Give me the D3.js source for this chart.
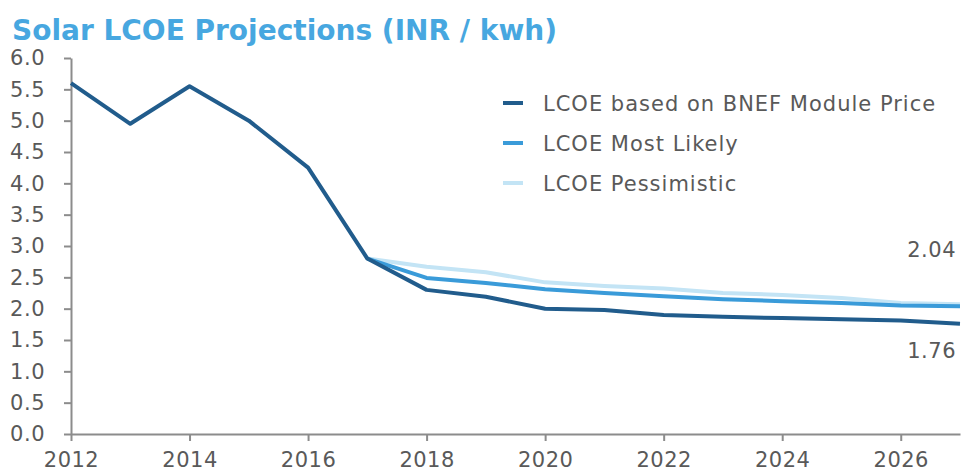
<!DOCTYPE html>
<html>
<head>
<meta charset="utf-8">
<title>Solar LCOE Projections</title>
<script src="https://cdn.jsdelivr.net/npm/d3@7/dist/d3.min.js"></script>
<style>
  body { margin: 0; background: #fff; }
  text { font-family: "DejaVu Sans", sans-serif; }
</style>
</head>
<body>
<script>
// data
var years = [2012, 2013, 2014, 2015, 2016, 2017, 2018, 2019, 2020, 2021, 2022, 2023, 2024, 2025, 2026, 2027];
var bnef = [5.6, 4.95, 5.55, 5.0, 4.25, 2.8, 2.3, 2.19, 2.0, 1.98, 1.9, 1.87, 1.85, 1.83, 1.81, 1.76];
var mostLikelyYears = [2017, 2018, 2019, 2020, 2021, 2022, 2023, 2024, 2025, 2026, 2027];
var mostLikely = [2.8, 2.49, 2.41, 2.31, 2.25, 2.2, 2.15, 2.12, 2.09, 2.05, 2.04];
var pessimistic = [2.8, 2.67, 2.58, 2.42, 2.36, 2.32, 2.25, 2.22, 2.17, 2.09, 2.07];
var yTicks = [0, 0.5, 1, 1.5, 2, 2.5, 3, 3.5, 4, 4.5, 5, 5.5, 6];
var xTicks = [2012, 2014, 2016, 2018, 2020, 2022, 2024, 2026];
var seriesNames = ["LCOE based on BNEF Module Price", "LCOE Most Likely", "LCOE Pessimistic"];
var seriesColors = ["#215c8c", "#3a9bd9", "#c3e4f5"];

var w = 970, h = 474;
var svg = d3.select("body").append("svg").attr("width", w).attr("height", h);

var x = d3.scaleLinear().domain([2012, 2027]).range([71, 960]);
var y = d3.scaleLinear().domain([0, 6]).range([434, 58]);

svg.append("text")
   .attr("x", 12).attr("y", 40)
   .attr("fill", "#47a7e0")
   .attr("font-size", 28).attr("font-weight", "bold")
   .text("Solar LCOE Projections (INR / kwh)");

var yAxis = svg.append("g")
   .attr("transform", "translate(71,0)")
   .call(d3.axisLeft(y).tickValues(yTicks).tickFormat(d3.format(".1f"))
         .tickSize(7).tickSizeOuter(0).tickPadding(19));

var xAxis = svg.append("g")
   .attr("transform", "translate(0,434)")
   .call(d3.axisBottom(x).tickValues(xTicks).tickFormat(d3.format("d"))
         .tickSize(7).tickSizeOuter(0).tickPadding(11));

[yAxis, xAxis].forEach(function(a) {
  a.select(".domain").attr("stroke", "#8c8c8c").attr("stroke-width", 2);
  a.selectAll(".tick line").attr("stroke", "#8c8c8c").attr("stroke-width", 2);
  a.selectAll(".tick text").attr("fill", "#595959").attr("font-size", 21)
   .attr("letter-spacing", 0.5)
   .attr("font-family", "DejaVu Sans, sans-serif");
});

var line = d3.line()
   .x(function(d) { return x(d[0]); })
   .y(function(d) { return y(d[1]); });

var series = [
  d3.zip(years, bnef),
  d3.zip(mostLikelyYears, mostLikely),
  d3.zip(mostLikelyYears, pessimistic)
];

// draw pessimistic first so darker lines sit on top
[2, 1, 0].forEach(function(i) {
  svg.append("path")
     .datum(series[i])
     .attr("d", line)
     .attr("fill", "none")
     .attr("stroke", seriesColors[i])
     .attr("stroke-width", 4)
     .attr("stroke-linejoin", "round");
});

// legend
var legend = svg.append("g");
seriesNames.forEach(function(name, i) {
  var ly = 103 + i * 40;
  legend.append("line")
     .attr("x1", 503).attr("x2", 523)
     .attr("y1", ly).attr("y2", ly)
     .attr("stroke", seriesColors[i]).attr("stroke-width", 4);
  legend.append("text")
     .attr("x", 543).attr("y", ly + 8)
     .attr("font-size", 21).attr("fill", "#595959")
     .attr("letter-spacing", 1)
     .text(name);
});

// end labels
svg.append("text")
   .attr("x", 956).attr("y", 257)
   .attr("text-anchor", "end").attr("font-size", 21).attr("fill", "#595959")
   .attr("letter-spacing", 0.5)
   .text(d3.format(".2f")(mostLikely[mostLikely.length - 1]));
svg.append("text")
   .attr("x", 956).attr("y", 358)
   .attr("text-anchor", "end").attr("font-size", 21).attr("fill", "#595959")
   .attr("letter-spacing", 0.5)
   .text(d3.format(".2f")(bnef[bnef.length - 1]));
</script>
</body>
</html>
